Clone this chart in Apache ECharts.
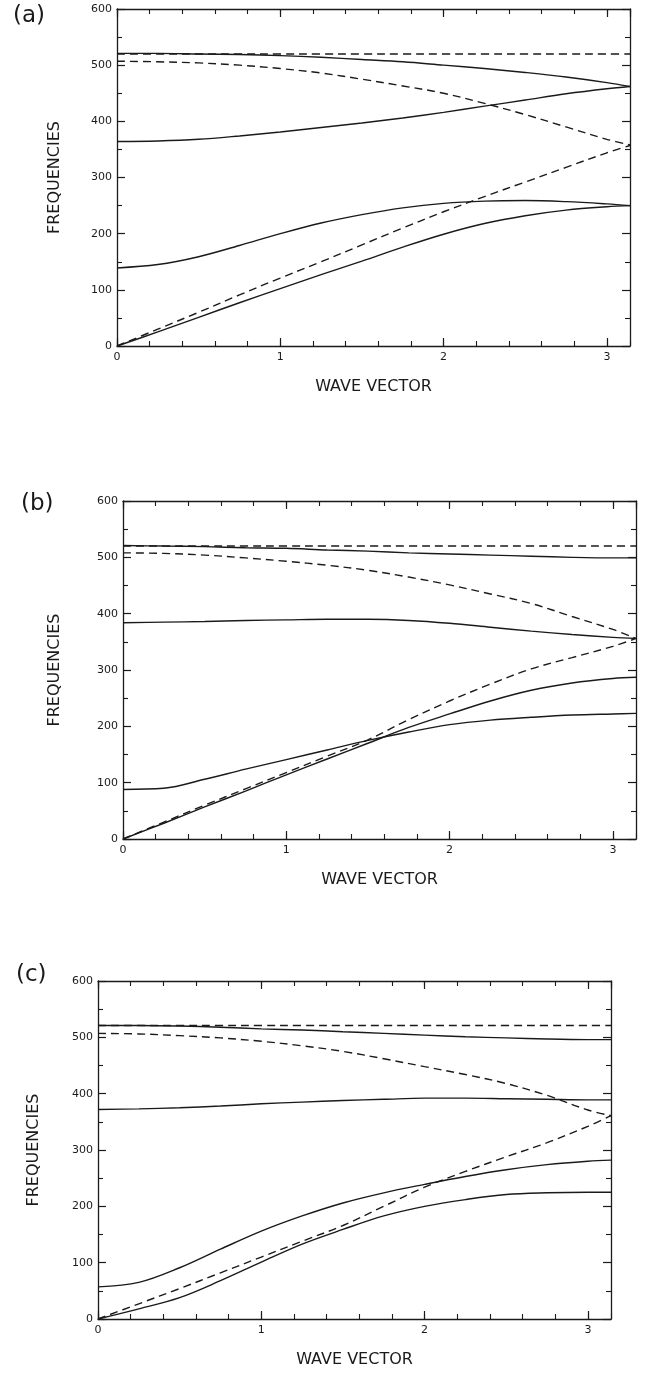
<!DOCTYPE html>
<html>
<head>
<meta charset="utf-8">
<script src="https://cdn.jsdelivr.net/npm/echarts@6/dist/echarts.min.js"></script>
<style>
  html, body { margin: 0; padding: 0; background: #fff; }
  #chart { width: 647px; height: 1374px; }
</style>
</head>
<body>
<div id="chart"></div>
<script>
// wave vector samples shared by every branch (0 .. pi)
const waveVector = [0, 0.25, 0.5, 0.75, 1, 1.25, 1.5, 1.75, 2, 2.25, 2.5, 2.75, 3, Math.PI];
const panelLabels = ['(a)', '(b)', '(c)'];

// panel (a)
const aSolidTop = [521, 521, 520, 519, 517, 514, 510, 506, 500, 494, 487, 479, 469, 462];
const aDashFlat = [520, 520, 520, 520, 520, 520, 520, 520, 520, 520, 520, 520, 520, 520];
const aDashDown = [507, 506, 504, 500, 494, 486, 475, 463, 450, 432, 412, 390, 368, 358];
const aSolidUp = [364, 365, 368, 374, 381, 389, 397, 406, 416, 427, 438, 449, 458, 462];
const aDashUp = [0, 30, 60, 91, 121, 150, 180, 210, 239, 266, 292, 318, 344, 357];
const aSolidMid = [139, 145, 159, 179, 200, 219, 234, 246, 254, 258, 259, 257, 253, 250];
const aSolidLow = [0, 25, 51, 77, 102, 127, 151, 176, 199, 218, 232, 242, 248, 250];

// panel (b)
const bSolidTop = [521, 520, 519, 517, 516, 513, 511, 508, 506, 504, 502, 500, 499, 499];
const bDashFlat = [520, 520, 520, 520, 520, 520, 520, 520, 520, 520, 520, 520, 520, 520];
const bDashDown = [508, 507, 504, 499, 493, 486, 477, 465, 451, 435, 418, 395, 372, 356];
const bSolidUp = [384, 385, 386, 388, 389, 390, 390, 388, 383, 376, 369, 363, 358, 356];
const bDashUp = [0, 30, 60, 89, 118, 147, 176, 212, 245, 275, 302, 322, 342, 356];
const bSolidMid = [88, 90, 106, 124, 141, 158, 175, 190, 203, 211, 216, 220, 222, 223];
const bSolidLow = [0, 28, 57, 85, 114, 142, 170, 198, 222, 245, 264, 277, 285, 287];

// panel (c)
const cSolidTop = [521, 521, 520, 518, 515, 513, 510, 507, 504, 501, 499, 497, 496, 496];
const cDashFlat = [521, 521, 521, 521, 521, 521, 521, 521, 521, 521, 521, 521, 521, 521];
const cDashDown = [507, 506, 503, 499, 493, 485, 475, 462, 448, 434, 418, 397, 371, 361];
const cSolidUp = [372, 373, 375, 378, 382, 385, 388, 390, 392, 392, 391, 390, 389, 389];
const cDashUp = [0, 27, 54, 82, 110, 138, 166, 200, 234, 262, 288, 313, 342, 361];
const cSolidMid = [57, 65, 91, 124, 156, 183, 206, 224, 239, 253, 265, 274, 280, 282];
const cSolidLow = [0, 18, 38, 68, 101, 133, 159, 183, 200, 212, 221, 224, 225, 225];

const panels = [
  { solid: [aSolidTop, aSolidUp, aSolidMid, aSolidLow], dashed: [aDashFlat, aDashDown, aDashUp] },
  { solid: [bSolidTop, bSolidUp, bSolidMid, bSolidLow], dashed: [bDashFlat, bDashDown, bDashUp] },
  { solid: [cSolidTop, cSolidUp, cSolidMid, cSolidLow], dashed: [cDashFlat, cDashDown, cDashUp] }
];

// plot boxes of the three panels
const boxes = [
  { left: 117, top: 9, width: 513, height: 337, yNameGap: 54 },
  { left: 123, top: 501, width: 513, height: 338, yNameGap: 60 },
  { left: 98, top: 981, width: 513, height: 338, yNameGap: 56 }
];
const labelPos = [[13, 5], [21, 493], [16, 964]];

const ink = '#1a1a1a';
const font = 'DejaVu Sans';

const myChart = echarts.init(document.getElementById('chart'), null, { renderer: 'canvas' });

const grid = [];
const xAxis = [];
const yAxis = [];
const series = [];
const graphic = [];

boxes.forEach(function (b, i) {
  grid.push({ left: b.left, top: b.top, width: b.width, height: b.height, containLabel: false });
  // bottom axis: line, labels, major ticks
  xAxis.push({
    type: 'value', gridIndex: i, position: 'bottom', min: 0, max: Math.PI, interval: 1,
    name: 'WAVE VECTOR', nameLocation: 'middle', nameGap: 33,
    nameTextStyle: { fontFamily: font, fontSize: 16, color: ink },
    axisLine: { show: true, onZero: false, lineStyle: { color: ink, width: 1.3 } },
    axisTick: { show: true, inside: true, length: 8, lineStyle: { color: ink, width: 1.2 } },
    axisLabel: {
      show: true, margin: 6, showMaxLabel: false, fontFamily: font, fontSize: 11, color: ink,
      formatter: function (v) { return Math.abs(v - Math.round(v)) < 1e-6 ? String(Math.round(v)) : ''; }
    },
    splitLine: { show: false }
  });
  // bottom minor ticks
  xAxis.push({
    type: 'value', gridIndex: i, position: 'bottom', min: 0, max: Math.PI, interval: 0.2,
    axisLine: { show: false, onZero: false },
    axisTick: { show: true, inside: true, length: 5, lineStyle: { color: ink, width: 1.1 } },
    axisLabel: { show: false }, splitLine: { show: false }
  });
  // top axis
  xAxis.push({
    type: 'value', gridIndex: i, position: 'top', min: 0, max: Math.PI, interval: 1,
    axisLine: { show: true, onZero: false, lineStyle: { color: ink, width: 1.3 } },
    axisTick: { show: true, inside: true, length: 8, lineStyle: { color: ink, width: 1.2 } },
    axisLabel: { show: false }, splitLine: { show: false }
  });
  xAxis.push({
    type: 'value', gridIndex: i, position: 'top', min: 0, max: Math.PI, interval: 0.2,
    axisLine: { show: false, onZero: false },
    axisTick: { show: true, inside: true, length: 5, lineStyle: { color: ink, width: 1.1 } },
    axisLabel: { show: false }, splitLine: { show: false }
  });
  // left axis
  yAxis.push({
    type: 'value', gridIndex: i, position: 'left', min: 0, max: 600, interval: 100,
    name: 'FREQUENCIES', nameLocation: 'middle', nameRotate: 90, nameGap: b.yNameGap,
    nameTextStyle: { fontFamily: font, fontSize: 16, color: ink },
    axisLine: { show: true, onZero: false, lineStyle: { color: ink, width: 1.3 } },
    axisTick: { show: true, inside: true, length: 8, lineStyle: { color: ink, width: 1.2 } },
    minorTick: { show: true, splitNumber: 2, length: 5, lineStyle: { color: ink, width: 1.1 } },
    axisLabel: { show: true, margin: 5, fontFamily: font, fontSize: 11, color: ink },
    splitLine: { show: false }, minorSplitLine: { show: false }
  });
  // right axis
  yAxis.push({
    type: 'value', gridIndex: i, position: 'right', min: 0, max: 600, interval: 100,
    axisLine: { show: true, onZero: false, lineStyle: { color: ink, width: 1.3 } },
    axisTick: { show: true, inside: true, length: 8, lineStyle: { color: ink, width: 1.2 } },
    minorTick: { show: true, splitNumber: 2, length: 5, lineStyle: { color: ink, width: 1.1 } },
    axisLabel: { show: false }, splitLine: { show: false }, minorSplitLine: { show: false }
  });

  const p = panels[i];
  const addLine = function (vals, dashed) {
    series.push({
      type: 'line', xAxisIndex: i * 4, yAxisIndex: i * 2,
      data: waveVector.map(function (x, k) { return [x, vals[k]]; }),
      smooth: 0.35, showSymbol: false, silent: true, clip: true,
      lineStyle: { color: ink, width: 1.4, type: dashed ? [8, 5] : 'solid' }
    });
  };
  p.solid.forEach(function (v) { addLine(v, false); });
  p.dashed.forEach(function (v) { addLine(v, true); });

  graphic.push({
    type: 'text', left: labelPos[i][0], top: labelPos[i][1],
    style: { text: panelLabels[i], fontFamily: font, fontSize: 23, fill: ink }
  });
});

const option = {
  backgroundColor: '#fff',
  animation: false,
  grid: grid,
  xAxis: xAxis,
  yAxis: yAxis,
  series: series,
  graphic: graphic
};

option && myChart.setOption(option);
</script>
</body>
</html>
